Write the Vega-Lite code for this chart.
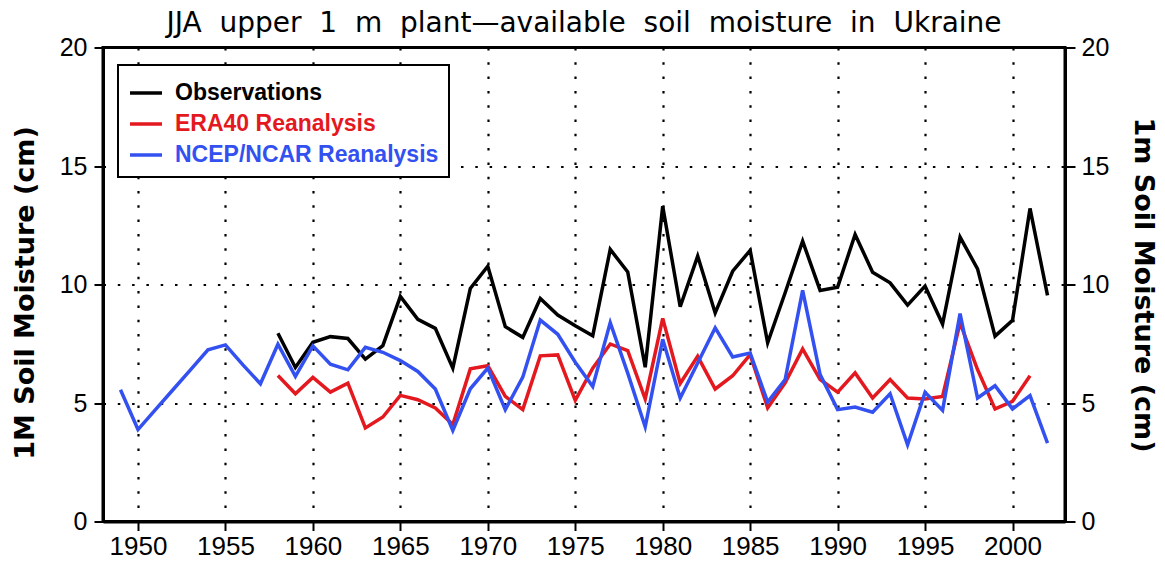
{
  "$schema": "https://vega.github.io/schema/vega-lite/v6.json",
  "width": 962,
  "height": 474,
  "autosize": {"type": "none"},
  "padding": {"left": 103, "top": 47.5, "right": 100, "bottom": 40.5},
  "background": "white",
  "config": {"view": {"stroke": "black", "strokeWidth": 3}, "font": "Liberation Sans"},
  "title": {
    "text": "JJA\u00a0 upper\u00a0 1\u00a0 m\u00a0 plant—available\u00a0 soil\u00a0 moisture\u00a0 in\u00a0 Ukraine",
    "font": "DejaVu Sans",
    "fontSize": 28,
    "fontWeight": "normal",
    "frame": "group",
    "anchor": "middle",
    "baseline": "alphabetic",
    "offset": 12,
    "dy": 36,
    "color": "black"
  },
  "data": {
    "values": [
      {"year": 1958, "series": "Observations", "value": 7.94},
      {"year": 1959, "series": "Observations", "value": 6.5},
      {"year": 1960, "series": "Observations", "value": 7.56},
      {"year": 1961, "series": "Observations", "value": 7.8},
      {"year": 1962, "series": "Observations", "value": 7.72},
      {"year": 1963, "series": "Observations", "value": 6.85},
      {"year": 1964, "series": "Observations", "value": 7.42},
      {"year": 1965, "series": "Observations", "value": 9.5},
      {"year": 1966, "series": "Observations", "value": 8.53},
      {"year": 1967, "series": "Observations", "value": 8.15},
      {"year": 1968, "series": "Observations", "value": 6.47},
      {"year": 1969, "series": "Observations", "value": 9.83},
      {"year": 1970, "series": "Observations", "value": 10.77},
      {"year": 1971, "series": "Observations", "value": 8.22},
      {"year": 1972, "series": "Observations", "value": 7.77},
      {"year": 1973, "series": "Observations", "value": 9.41},
      {"year": 1974, "series": "Observations", "value": 8.71},
      {"year": 1975, "series": "Observations", "value": 8.26},
      {"year": 1976, "series": "Observations", "value": 7.84},
      {"year": 1977, "series": "Observations", "value": 11.48},
      {"year": 1978, "series": "Observations", "value": 10.53},
      {"year": 1979, "series": "Observations", "value": 6.51},
      {"year": 1980, "series": "Observations", "value": 13.3},
      {"year": 1981, "series": "Observations", "value": 9.06},
      {"year": 1982, "series": "Observations", "value": 11.2},
      {"year": 1983, "series": "Observations", "value": 8.8},
      {"year": 1984, "series": "Observations", "value": 10.56},
      {"year": 1985, "series": "Observations", "value": 11.44},
      {"year": 1986, "series": "Observations", "value": 7.54},
      {"year": 1987, "series": "Observations", "value": 9.65},
      {"year": 1988, "series": "Observations", "value": 11.83},
      {"year": 1989, "series": "Observations", "value": 9.75},
      {"year": 1990, "series": "Observations", "value": 9.89},
      {"year": 1991, "series": "Observations", "value": 12.11},
      {"year": 1992, "series": "Observations", "value": 10.52},
      {"year": 1993, "series": "Observations", "value": 10.07},
      {"year": 1994, "series": "Observations", "value": 9.13},
      {"year": 1995, "series": "Observations", "value": 9.93},
      {"year": 1996, "series": "Observations", "value": 8.33},
      {"year": 1997, "series": "Observations", "value": 12.0},
      {"year": 1998, "series": "Observations", "value": 10.66},
      {"year": 1999, "series": "Observations", "value": 7.82},
      {"year": 2000, "series": "Observations", "value": 8.49},
      {"year": 2001, "series": "Observations", "value": 13.21},
      {"year": 2002, "series": "Observations", "value": 9.54},
      {"year": 1958, "series": "ERA40 Reanalysis", "value": 6.16},
      {"year": 1959, "series": "ERA40 Reanalysis", "value": 5.39},
      {"year": 1960, "series": "ERA40 Reanalysis", "value": 6.08},
      {"year": 1961, "series": "ERA40 Reanalysis", "value": 5.46},
      {"year": 1962, "series": "ERA40 Reanalysis", "value": 5.84},
      {"year": 1963, "series": "ERA40 Reanalysis", "value": 3.95},
      {"year": 1964, "series": "ERA40 Reanalysis", "value": 4.41},
      {"year": 1965, "series": "ERA40 Reanalysis", "value": 5.32},
      {"year": 1966, "series": "ERA40 Reanalysis", "value": 5.14},
      {"year": 1967, "series": "ERA40 Reanalysis", "value": 4.79},
      {"year": 1968, "series": "ERA40 Reanalysis", "value": 4.09},
      {"year": 1969, "series": "ERA40 Reanalysis", "value": 6.44},
      {"year": 1970, "series": "ERA40 Reanalysis", "value": 6.57},
      {"year": 1971, "series": "ERA40 Reanalysis", "value": 5.28},
      {"year": 1972, "series": "ERA40 Reanalysis", "value": 4.72},
      {"year": 1973, "series": "ERA40 Reanalysis", "value": 6.99},
      {"year": 1974, "series": "ERA40 Reanalysis", "value": 7.03},
      {"year": 1975, "series": "ERA40 Reanalysis", "value": 5.11},
      {"year": 1976, "series": "ERA40 Reanalysis", "value": 6.47},
      {"year": 1977, "series": "ERA40 Reanalysis", "value": 7.49},
      {"year": 1978, "series": "ERA40 Reanalysis", "value": 7.21},
      {"year": 1979, "series": "ERA40 Reanalysis", "value": 5.17},
      {"year": 1980, "series": "ERA40 Reanalysis", "value": 8.57},
      {"year": 1981, "series": "ERA40 Reanalysis", "value": 5.82},
      {"year": 1982, "series": "ERA40 Reanalysis", "value": 6.97},
      {"year": 1983, "series": "ERA40 Reanalysis", "value": 5.59},
      {"year": 1984, "series": "ERA40 Reanalysis", "value": 6.15},
      {"year": 1985, "series": "ERA40 Reanalysis", "value": 7.04},
      {"year": 1986, "series": "ERA40 Reanalysis", "value": 4.79},
      {"year": 1987, "series": "ERA40 Reanalysis", "value": 5.85},
      {"year": 1988, "series": "ERA40 Reanalysis", "value": 7.28},
      {"year": 1989, "series": "ERA40 Reanalysis", "value": 5.99},
      {"year": 1990, "series": "ERA40 Reanalysis", "value": 5.46},
      {"year": 1991, "series": "ERA40 Reanalysis", "value": 6.27},
      {"year": 1992, "series": "ERA40 Reanalysis", "value": 5.21},
      {"year": 1993, "series": "ERA40 Reanalysis", "value": 5.99},
      {"year": 1994, "series": "ERA40 Reanalysis", "value": 5.21},
      {"year": 1995, "series": "ERA40 Reanalysis", "value": 5.17},
      {"year": 1996, "series": "ERA40 Reanalysis", "value": 5.28},
      {"year": 1997, "series": "ERA40 Reanalysis", "value": 8.38},
      {"year": 1998, "series": "ERA40 Reanalysis", "value": 6.41},
      {"year": 1999, "series": "ERA40 Reanalysis", "value": 4.75},
      {"year": 2000, "series": "ERA40 Reanalysis", "value": 5.07},
      {"year": 2001, "series": "ERA40 Reanalysis", "value": 6.15},
      {"year": 1949, "series": "NCEP/NCAR Reanalysis", "value": 5.56},
      {"year": 1950, "series": "NCEP/NCAR Reanalysis", "value": 3.88},
      {"year": 1951, "series": "NCEP/NCAR Reanalysis", "value": 4.72},
      {"year": 1952, "series": "NCEP/NCAR Reanalysis", "value": 5.56},
      {"year": 1953, "series": "NCEP/NCAR Reanalysis", "value": 6.4},
      {"year": 1954, "series": "NCEP/NCAR Reanalysis", "value": 7.24},
      {"year": 1955, "series": "NCEP/NCAR Reanalysis", "value": 7.45},
      {"year": 1956, "series": "NCEP/NCAR Reanalysis", "value": 6.61},
      {"year": 1957, "series": "NCEP/NCAR Reanalysis", "value": 5.81},
      {"year": 1958, "series": "NCEP/NCAR Reanalysis", "value": 7.48},
      {"year": 1959, "series": "NCEP/NCAR Reanalysis", "value": 6.12},
      {"year": 1960, "series": "NCEP/NCAR Reanalysis", "value": 7.41},
      {"year": 1961, "series": "NCEP/NCAR Reanalysis", "value": 6.64},
      {"year": 1962, "series": "NCEP/NCAR Reanalysis", "value": 6.4},
      {"year": 1963, "series": "NCEP/NCAR Reanalysis", "value": 7.35},
      {"year": 1964, "series": "NCEP/NCAR Reanalysis", "value": 7.14},
      {"year": 1965, "series": "NCEP/NCAR Reanalysis", "value": 6.79},
      {"year": 1966, "series": "NCEP/NCAR Reanalysis", "value": 6.33},
      {"year": 1967, "series": "NCEP/NCAR Reanalysis", "value": 5.59},
      {"year": 1968, "series": "NCEP/NCAR Reanalysis", "value": 3.84},
      {"year": 1969, "series": "NCEP/NCAR Reanalysis", "value": 5.6},
      {"year": 1970, "series": "NCEP/NCAR Reanalysis", "value": 6.47},
      {"year": 1971, "series": "NCEP/NCAR Reanalysis", "value": 4.72},
      {"year": 1972, "series": "NCEP/NCAR Reanalysis", "value": 6.09},
      {"year": 1973, "series": "NCEP/NCAR Reanalysis", "value": 8.5},
      {"year": 1974, "series": "NCEP/NCAR Reanalysis", "value": 7.9},
      {"year": 1975, "series": "NCEP/NCAR Reanalysis", "value": 6.72},
      {"year": 1976, "series": "NCEP/NCAR Reanalysis", "value": 5.7},
      {"year": 1977, "series": "NCEP/NCAR Reanalysis", "value": 8.39},
      {"year": 1978, "series": "NCEP/NCAR Reanalysis", "value": 6.26},
      {"year": 1979, "series": "NCEP/NCAR Reanalysis", "value": 3.99},
      {"year": 1980, "series": "NCEP/NCAR Reanalysis", "value": 7.69},
      {"year": 1981, "series": "NCEP/NCAR Reanalysis", "value": 5.21},
      {"year": 1982, "series": "NCEP/NCAR Reanalysis", "value": 6.69},
      {"year": 1983, "series": "NCEP/NCAR Reanalysis", "value": 8.17},
      {"year": 1984, "series": "NCEP/NCAR Reanalysis", "value": 6.94},
      {"year": 1985, "series": "NCEP/NCAR Reanalysis", "value": 7.11},
      {"year": 1986, "series": "NCEP/NCAR Reanalysis", "value": 5.04},
      {"year": 1987, "series": "NCEP/NCAR Reanalysis", "value": 5.99},
      {"year": 1988, "series": "NCEP/NCAR Reanalysis", "value": 9.75},
      {"year": 1989, "series": "NCEP/NCAR Reanalysis", "value": 6.2},
      {"year": 1990, "series": "NCEP/NCAR Reanalysis", "value": 4.72},
      {"year": 1991, "series": "NCEP/NCAR Reanalysis", "value": 4.83},
      {"year": 1992, "series": "NCEP/NCAR Reanalysis", "value": 4.61},
      {"year": 1993, "series": "NCEP/NCAR Reanalysis", "value": 5.39},
      {"year": 1994, "series": "NCEP/NCAR Reanalysis", "value": 3.24},
      {"year": 1995, "series": "NCEP/NCAR Reanalysis", "value": 5.45},
      {"year": 1996, "series": "NCEP/NCAR Reanalysis", "value": 4.69},
      {"year": 1997, "series": "NCEP/NCAR Reanalysis", "value": 8.77},
      {"year": 1998, "series": "NCEP/NCAR Reanalysis", "value": 5.21},
      {"year": 1999, "series": "NCEP/NCAR Reanalysis", "value": 5.73},
      {"year": 2000, "series": "NCEP/NCAR Reanalysis", "value": 4.75},
      {"year": 2001, "series": "NCEP/NCAR Reanalysis", "value": 5.31},
      {"year": 2002, "series": "NCEP/NCAR Reanalysis", "value": 3.31}
    ]
  },
  "layer": [
    {
      "mark": {"type": "line", "strokeWidth": 3.5},
      "encoding": {
        "x": {
          "field": "year",
          "type": "quantitative",
          "scale": {"domain": [1948, 2003], "nice": false, "zero": false},
          "axis": {
            "values": [1950, 1955, 1960, 1965, 1970, 1975, 1980, 1985, 1990, 1995, 2000],
            "format": "d",
            "title": null,
            "grid": true,
            "gridColor": "black",
            "gridDash": [2.5, 11.8],
            "gridWidth": 2.2,
            "gridOpacity": 1,
            "domainColor": "black",
            "domainWidth": 3,
            "tickColor": "black",
            "tickWidth": 2,
            "tickSize": 9,
            "labelFont": "Liberation Sans",
            "labelFontSize": 26,
            "labelColor": "black",
            "labelPadding": 3,
            "labelFlush": false
          }
        },
        "y": {
          "field": "value",
          "type": "quantitative",
          "scale": {"domain": [0, 20], "nice": false},
          "axis": {
            "orient": "left",
            "values": [0, 5, 10, 15, 20],
            "grid": true,
            "gridColor": "black",
            "gridDash": [2.5, 11.8],
            "gridWidth": 2.2,
            "gridOpacity": 1,
            "domainColor": "black",
            "domainWidth": 3,
            "tickColor": "black",
            "tickWidth": 2,
            "tickSize": 9,
            "labelFont": "Liberation Sans",
            "labelFontSize": 25,
            "labelColor": "black",
            "labelPadding": 7,
            "labelFlush": false,
            "title": "1M Soil Moisture (cm)",
            "titleFont": "DejaVu Sans",
            "titleFontSize": 27,
            "titleFontWeight": "bold",
            "titleColor": "black",
            "titlePadding": 20,
            "titleY": 245
          }
        },
        "color": {
          "field": "series",
          "type": "nominal",
          "scale": {
            "domain": ["Observations", "ERA40 Reanalysis", "NCEP/NCAR Reanalysis"],
            "range": ["#000000", "#e4191f", "#3350f0"]
          },
          "legend": {
            "orient": "none",
            "legendX": 15,
            "legendY": 17.5,
            "title": null,
            "symbolType": "stroke",
            "symbolSize": 1024,
            "symbolStrokeWidth": 3.5,
            "labelFont": "Liberation Sans",
            "labelFontSize": 23,
            "labelFontWeight": "bold",
            "labelOffset": 11,
            "labelLimit": 400,
            "padding": 10,
            "rowPadding": 1,
            "fillColor": "white",
            "strokeColor": "black",
            "encode": {
              "labels": {"update": {"fill": {"scale": "color", "field": "value"}}},
              "legend": {"update": {"strokeWidth": {"value": 2}}}
            }
          }
        }
      }
    },
    {
      "mark": {"type": "point", "opacity": 0},
      "encoding": {
        "x": {"field": "year", "type": "quantitative"},
        "y": {
          "field": "value",
          "type": "quantitative",
          "scale": {"domain": [0, 20], "nice": false},
          "axis": {
            "orient": "right",
            "values": [0, 5, 10, 15, 20],
            "grid": false,
            "domainColor": "black",
            "domainWidth": 3,
            "tickColor": "black",
            "tickWidth": 2,
            "tickSize": 10,
            "labelFont": "Liberation Sans",
            "labelFontSize": 25,
            "labelColor": "black",
            "labelPadding": 6,
            "labelFlush": false,
            "title": "1m Soil Moisture (cm)",
            "titleFont": "DejaVu Sans",
            "titleFontSize": 27,
            "titleFontWeight": "bold",
            "titleColor": "black",
            "titleAngle": 90,
            "titlePadding": 20
          }
        }
      }
    }
  ],
  "resolve": {"scale": {"y": "independent"}, "axis": {"y": "independent"}}
}
